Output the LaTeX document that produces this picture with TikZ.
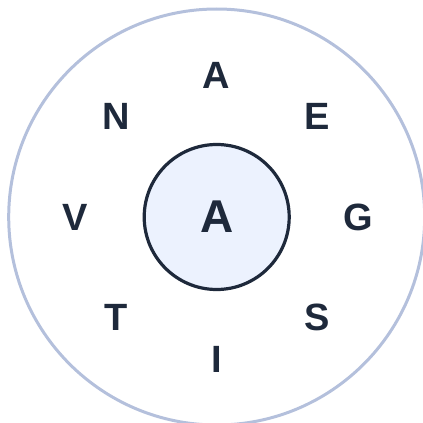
\documentclass[tikz,border=0pt]{standalone}
\usepackage{fontspec}
\setmainfont{Liberation Sans}
\definecolor{ink}{HTML}{1E293B}
\definecolor{ring}{HTML}{B4C0DC}
\definecolor{hub}{HTML}{ECF2FE}
\begin{document}
\begin{tikzpicture}[x=1pt,y=-1pt,
  letter/.style={font=\fontsize{38}{38}\selectfont\bfseries, text=ink, inner sep=0pt},
  centerletter/.style={font=\fontsize{46}{46}\selectfont\bfseries, text=ink, inner sep=0pt},
  outerring/.style={circle, draw=ring, line width=3pt, inner sep=0pt, minimum size=416pt},
  hubcircle/.style={circle, draw=ink, fill=hub, line width=3.2pt, inner sep=0pt, minimum size=145pt}]
\useasboundingbox (0,0) rectangle (423,423);
\clip (0,0) rectangle (423,423);
\coordinate (c) at (216.7,217);
\node[outerring] (outer) at (c) {};
\node[hubcircle] (hub) at (c) {};
\node[centerletter] (ca) at (c) {A};
\node[letter] (l1) at ([shift={(0,-142)}]c) {A};
\node[letter] (l2) at ([shift={(100.4,-100.4)}]c) {E};
\node[letter] (l3) at ([shift={(142,0)}]c) {G};
\node[letter] (l4) at ([shift={(100.4,100.4)}]c) {S};
\node[letter] (l5) at ([shift={(0,142)}]c) {I};
\node[letter] (l6) at ([shift={(-100.4,100.4)}]c) {T};
\node[letter] (l7) at ([shift={(-142,0)}]c) {V};
\node[letter] (l8) at ([shift={(-100.4,-100.4)}]c) {N};
\end{tikzpicture}
\end{document}
